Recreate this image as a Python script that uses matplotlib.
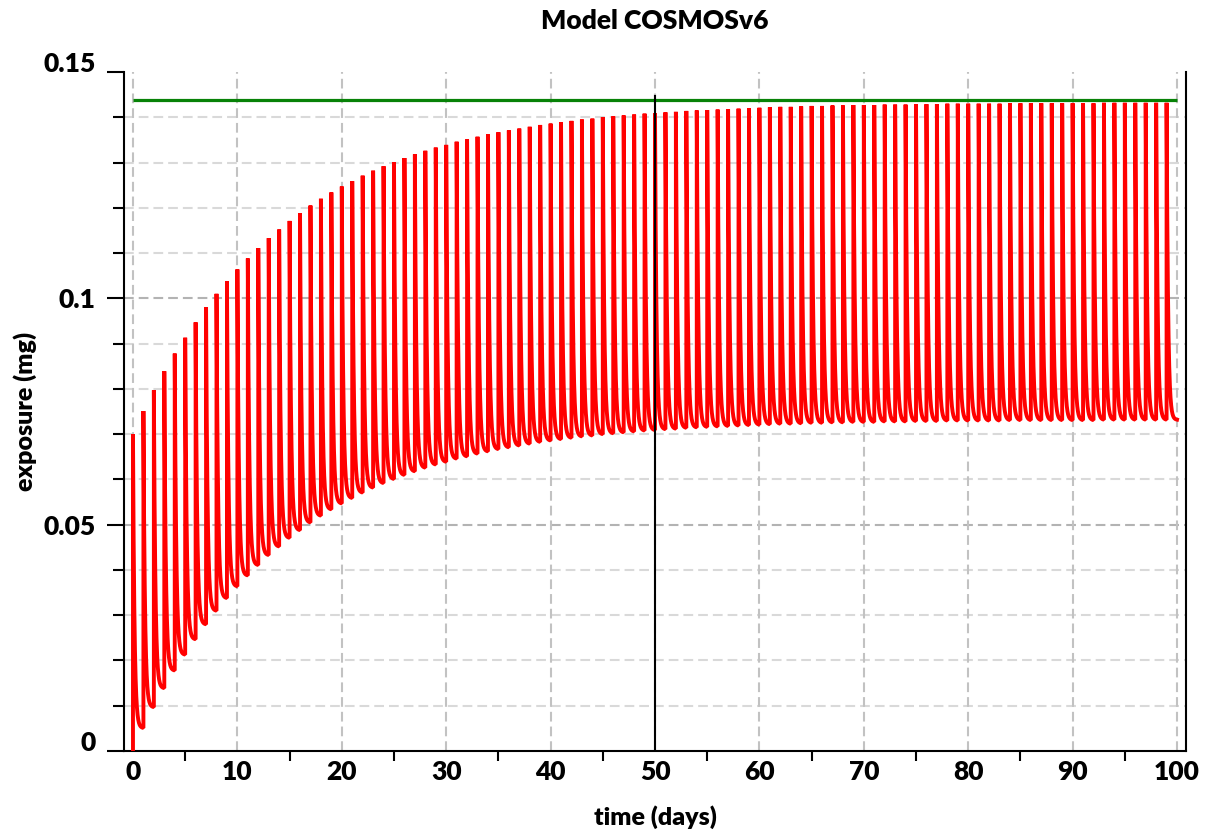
import numpy as np
import matplotlib
matplotlib.use('Agg')
import matplotlib.pyplot as plt
from matplotlib.ticker import MultipleLocator

plt.rcParams['font.family'] = ['Lato', 'DejaVu Sans']
plt.rcParams['font.weight'] = 'heavy'
plt.rcParams['lines.scale_dashes'] = False

# ---- data ----
dose_days = list(range(0, 100))
peak_mg = [0.0700, 0.0751, 0.0797, 0.0839, 0.0878, 0.0913, 0.0947, 0.0980, 0.1010, 0.1038, 0.1064,
           0.1088, 0.1111, 0.1133, 0.1152, 0.1171, 0.1188, 0.1205, 0.1220, 0.1234, 0.1247,
           0.1259, 0.1271, 0.1282, 0.1292, 0.1301, 0.1310, 0.1318, 0.1326, 0.1333, 0.1339,
           0.1346, 0.1351, 0.1357, 0.1362, 0.1367, 0.1371, 0.1375, 0.1379, 0.1383, 0.1386,
           0.1389, 0.1392, 0.1395, 0.1397, 0.1400, 0.1402, 0.1404, 0.1406, 0.1408, 0.1409,
           0.1411, 0.1412, 0.1414, 0.1415, 0.1416, 0.1417, 0.1418, 0.1419, 0.1420, 0.1421,
           0.1422, 0.1423, 0.1423, 0.1424, 0.1425, 0.1425, 0.1426, 0.1426, 0.1427, 0.1427,
           0.1427, 0.1428, 0.1428, 0.1428, 0.1429, 0.1429, 0.1429, 0.1430, 0.1430, 0.1430,
           0.1430, 0.1430, 0.1430, 0.1431, 0.1431, 0.1431, 0.1431, 0.1431, 0.1431, 0.1431,
           0.1431, 0.1431, 0.1432, 0.1432, 0.1432, 0.1432, 0.1432, 0.1432, 0.1432]
trough_days = list(range(1, 101))
trough_mg = [0.0051, 0.0097, 0.0139, 0.0178, 0.0213, 0.0247, 0.0280, 0.0310, 0.0338, 0.0364,
             0.0388, 0.0411, 0.0433, 0.0452, 0.0471, 0.0488, 0.0505, 0.0520, 0.0534, 0.0547,
             0.0559, 0.0571, 0.0582, 0.0592, 0.0601, 0.0610, 0.0618, 0.0626, 0.0633, 0.0639,
             0.0646, 0.0651, 0.0657, 0.0662, 0.0667, 0.0671, 0.0675, 0.0679, 0.0683, 0.0686,
             0.0689, 0.0692, 0.0695, 0.0697, 0.0700, 0.0702, 0.0704, 0.0706, 0.0708, 0.0709,
             0.0711, 0.0712, 0.0714, 0.0715, 0.0716, 0.0717, 0.0718, 0.0719, 0.0720, 0.0721,
             0.0722, 0.0723, 0.0723, 0.0724, 0.0725, 0.0725, 0.0726, 0.0726, 0.0727, 0.0727,
             0.0727, 0.0728, 0.0728, 0.0728, 0.0729, 0.0729, 0.0729, 0.0730, 0.0730, 0.0730,
             0.0730, 0.0730, 0.0730, 0.0731, 0.0731, 0.0731, 0.0731, 0.0731, 0.0731, 0.0731,
             0.0731, 0.0731, 0.0732, 0.0732, 0.0732, 0.0732, 0.0732, 0.0732, 0.0732, 0.0732]
start_mg = 0.0
reference_level_mg = 0.1439
reference_x = [0, 100]
marker_day = 50
marker_top_mg = 0.1448
x_ticks = list(range(0, 101, 10))
y_ticks = [0, 0.05, 0.1, 0.15]
y_tick_labels = ['0', '0.05', '0.1', '0.15']
title = 'Model COSMOSv6'
x_label = 'time (days)'
y_label = 'exposure (mg)'

# ---- curve shape between a dose peak and the next trough ----
decay_k = 7.0
n_sub = 80
xs = [dose_days[0]]
ys = [start_mg]
tt = np.linspace(0.0, 1.0, n_sub)
shape = (np.exp(-decay_k * tt) - np.exp(-decay_k)) / (1 - np.exp(-decay_k))
for d, p, td, t in zip(dose_days, peak_mg, trough_days, trough_mg):
    xs.extend(d + tt * (td - d))
    ys.extend(t + (p - t) * shape)

# ---- figure ----
W, H = 1205, 830
fig = plt.figure(figsize=(W / 100, H / 100), dpi=100)
ax = fig.add_axes([124 / W, 1 - 751 / H, (1186 - 124) / W, (751 - 72) / H])
ax.set_xlim(-0.86, 100.86)
ax.set_ylim(0, 0.15)

# grid
for v in np.arange(1, 15):
    yv = v / 100
    major = (v % 5 == 0)
    ax.axhline(yv, color='#b3b3b3' if major else '#d9d9d9', lw=1.5,
               dashes=(7, 3.6), zorder=0)
for xv in x_ticks:
    ax.axvline(xv, color='#c2c2c2', lw=1.5, dashes=(7, 3.6), zorder=0)

ax.plot(xs, ys, color='#ff0000', lw=2.8, solid_joinstyle='bevel', zorder=3)
ax.plot(reference_x, [reference_level_mg] * 2, color='#078207', lw=2.3, zorder=4,
        solid_capstyle='butt')
ax.plot([marker_day, marker_day], [0, marker_top_mg], color='black', lw=1.5, zorder=5)

# spines
ax.spines['top'].set_visible(False)
for s in ['left', 'bottom', 'right']:
    ax.spines[s].set_linewidth(1.5)
    ax.spines[s].set_color('black')

ax.set_xticks(x_ticks)
ax.set_xticklabels([str(v) for v in x_ticks])
ax.xaxis.set_minor_locator(MultipleLocator(5))
ax.set_yticks(y_ticks)
ax.set_yticklabels(y_tick_labels)
ax.yaxis.set_minor_locator(MultipleLocator(0.01))

ax.tick_params(axis='x', which='major', length=0, pad=6.5, labelsize=19)
ax.tick_params(axis='x', which='minor', length=7, width=1.5, direction='out')
ax.tick_params(axis='y', which='major', length=12.2, width=1.5, direction='out',
               pad=8, labelsize=19)
ax.tick_params(axis='y', which='minor', length=8, width=1.5, direction='out')

ylabels = ax.get_yticklabels()
ylabels[0].set_va('baseline')
ylabels[-1].set_va('baseline')

fig.text(655 / W, 1 - 21 / H, title, ha='center', va='center', fontsize=19)
fig.text(655 / W, 1 - 817 / H, x_label, ha='center', va='center', fontsize=18)
fig.text(25 / W, 1 - 411 / H, y_label, ha='center', va='center', rotation=90,
         fontsize=18)

fig.savefig('out.png', dpi=100)
